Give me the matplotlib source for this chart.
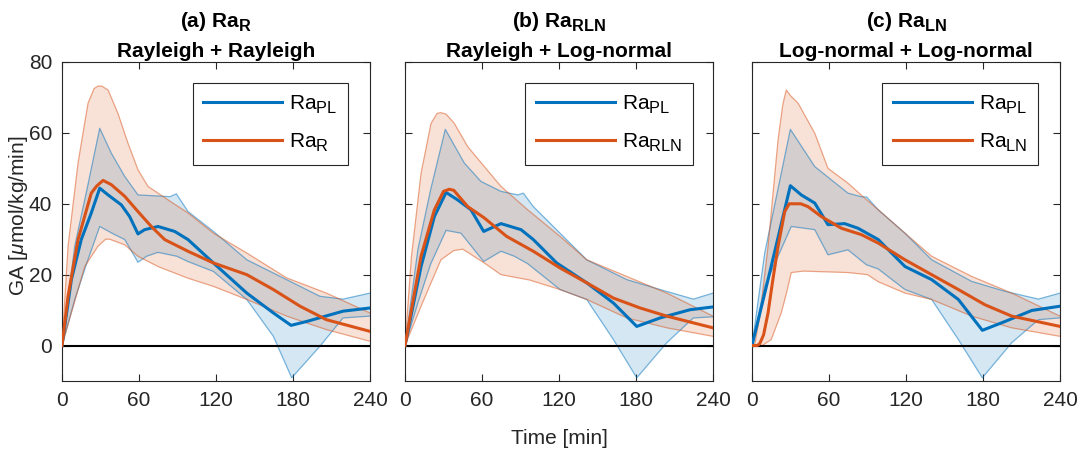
import numpy as np
import matplotlib
matplotlib.use("Agg")
import matplotlib.pyplot as plt

try:
    import matplotlib._mathtext as _mt
    _mt.SHRINK_FACTOR = 0.78
    _mt.FontConstantsBase.sub1 = 0.42
    _mt.FontConstantsBase.sub2 = 0.5
except Exception:
    pass

plt.rcParams['font.family'] = ['Liberation Sans', 'DejaVu Sans']
plt.rcParams['mathtext.fontset'] = 'custom'
plt.rcParams['mathtext.rm'] = 'Liberation Sans'
plt.rcParams['mathtext.it'] = 'Liberation Sans:italic'
plt.rcParams['mathtext.bf'] = 'Liberation Sans:bold'
plt.rcParams['mathtext.default'] = 'rm'

# ---------------- data ----------------
titles_top = [r"(a) Ra$_{\mathbf{R}}$", r"(b) Ra$_{\mathbf{RLN}}$", r"(c) Ra$_{\mathbf{LN}}$"]
titles_bottom = ["Rayleigh + Rayleigh", "Rayleigh + Log-normal", "Log-normal + Log-normal"]
labels_blue = [r"Ra$_{PL}$", r"Ra$_{PL}$", r"Ra$_{PL}$"]
labels_orange = [r"Ra$_{R}$", r"Ra$_{RLN}$", r"Ra$_{LN}$"]
xticks = [0, 60, 120, 180, 240]
yticks = [0, 20, 40, 60, 80]

# Panel (a)
a_pl_t = [0, 7.3, 15, 22.8, 29.4, 35.9, 46.2, 52.7, 59.2, 64.4, 74.8, 87.8, 98.2, 118, 144, 164.7, 178.5, 190.7, 219, 240]
a_pl_m = [0, 18.6, 29.9, 37.4, 44.4, 42.5, 39.7, 36.4, 31.5, 32.7, 33.6, 32.2, 29.9, 23.3, 14.8, 9.2, 5.7, 6.8, 9.7, 10.6]
a_pl_ut = [0, 9.9, 20, 29.4, 38.4, 48.9, 59.2, 74.8, 84, 89.1, 98.2, 118, 144, 175, 201, 219, 240]
a_pl_u = [0, 28, 45, 61.3, 54.3, 47.7, 42.5, 42.2, 42.0, 42.8, 37.8, 32.2, 24.2, 18.6, 13.9, 13.1, 14.8]
a_pl_lt = [0, 10, 20, 29.4, 40, 48.9, 59.2, 66, 74.8, 89.4, 98.2, 118, 144, 164.7, 179, 201, 219, 240]
a_pl_l = [0, 13, 24, 33.6, 31.5, 29.9, 23.5, 25.2, 26.3, 25.2, 23.7, 20.9, 13, 2.6, -9.1, -0.2, 7.8, 8.3]
a_ra_t = [0, 4.7, 12.5, 22.8, 27, 32, 38.4, 48.9, 59.2, 69.6, 80, 98.2, 118, 144, 164.7, 185.5, 206, 240]
a_ra_m = [0, 13.9, 29.9, 43, 45, 46.6, 45.4, 42.1, 37.8, 33.6, 29.9, 26.6, 23.3, 20, 15.8, 11.1, 7.3, 4.0]
a_ra_ut = [0, 4.7, 12.5, 20.3, 25, 28, 31, 35.9, 43.6, 51.4, 59.2, 67, 82.6, 98.2, 118, 144, 175, 206, 240]
a_ra_u = [0, 28, 51.5, 68.4, 72.5, 73.2, 73.2, 72.1, 65.5, 57.1, 49.6, 44.9, 41.1, 37.4, 31.7, 26.1, 19.1, 14.8, 9.2]
a_ra_lt = [0, 7.3, 17.7, 28, 34, 37.2, 48.9, 59.2, 74.8, 98.2, 118, 144, 175, 206, 240]
a_ra_l = [0, 9.2, 22.3, 28, 30, 30, 28.4, 25.2, 22.3, 19, 16.7, 13, 8.3, 4.5, 1.2]

# Panel (b)
b_pl_t = [0, 12.5, 22.9, 32, 41, 51.4, 61.3, 74.8, 90.4, 100, 118.2, 141.6, 162.4, 180.6, 198.8, 222, 240]
b_pl_m = [0, 22.3, 36.4, 43.2, 41.1, 38.3, 32.2, 34.4, 32.7, 29.9, 23.3, 17.7, 12, 5.4, 7.8, 10.1, 10.9]
b_pl_ut = [0, 10, 20, 31.4, 46.2, 59.2, 74.8, 88, 92.2, 100, 120.8, 141.6, 172.8, 198.8, 224.7, 240]
b_pl_u = [0, 27, 44, 61, 51.5, 46.3, 43.5, 42.5, 43, 39.2, 31.7, 24.2, 18.6, 15.8, 13.1, 14.8]
b_pl_lt = [0, 10, 20, 32, 43.6, 61.3, 74.8, 85.2, 95.6, 120.8, 141.6, 162.4, 180.6, 204, 224.7, 240]
b_pl_l = [0, 12, 23, 32.5, 31.7, 23.7, 26.6, 25.2, 23.1, 15.8, 13, 1.7, -9.1, 0.8, 7.8, 8.1]
b_ra_t = [0, 12.5, 22.9, 30, 34.5, 38, 48.9, 61.8, 79.2, 100, 120.8, 141.6, 162.4, 183.2, 204, 240]
b_ra_m = [0, 25.2, 38.3, 43.5, 44.1, 43.8, 39.2, 36, 30.8, 26.6, 21.9, 17.7, 13.4, 10.6, 8.3, 5]
b_ra_ut = [0, 5, 12.5, 20.3, 25, 28, 32, 38.4, 48.9, 61.8, 74.8, 95.6, 120.8, 141.6, 172.8, 204, 240]
b_ra_u = [0, 25, 48.6, 62.7, 65.5, 65.7, 65.3, 62.7, 56.1, 50.5, 44.9, 38.3, 30.8, 24.2, 19.5, 14.8, 8.3]
b_ra_lt = [0, 12.5, 28, 38, 45, 61.8, 74.8, 97, 120.8, 141.6, 172.8, 204, 240]
b_ra_l = [0, 11.1, 24.2, 26.8, 27.2, 23.3, 20, 18.5, 15.8, 13, 7.8, 5, 2.6]

# Panel (c)
c_pl_t = [0, 12.5, 29.9, 38.4, 48.9, 59.2, 72.2, 82.6, 98.4, 119.2, 140, 160.8, 179.5, 197.2, 218, 240]
c_pl_m = [0, 18.6, 45.1, 42.5, 40.2, 34.1, 34.4, 33.1, 29.9, 22.3, 18.6, 13, 4.3, 6.8, 9.9, 11.1]
c_pl_ut = [0, 9.9, 29.9, 48.9, 74.8, 85, 89.4, 98.4, 119.2, 140, 171.2, 197.2, 223.2, 240]
c_pl_u = [0, 26.1, 61, 50.5, 43, 42, 41.9, 38.3, 31.7, 24.2, 18.1, 15.3, 13.1, 14.8]
c_pl_lt = [0, 9.9, 30.6, 48.9, 59.2, 74.8, 89.1, 98.4, 119.2, 140, 160.8, 179.5, 202.4, 223.2, 240]
c_pl_l = [0, 16.7, 33.6, 32.7, 25.6, 27, 22.8, 21.6, 15.8, 13, 1.7, -9.1, 0.8, 7.3, 7.8]
c_ra_t = [0, 4, 6, 9, 12.5, 16, 20.3, 25.5, 29, 32, 38, 43.6, 54, 69.6, 85.2, 98.4, 119.2, 140, 160.8, 181.6, 202.4, 240]
c_ra_m = [0, 0, 0.5, 3, 9.2, 18, 28, 37.8, 40, 40, 40, 39.2, 36.4, 33.1, 31.3, 28.9, 24.2, 20, 15.8, 11.5, 8.3, 5.4]
c_ra_ut = [0, 2, 6, 12.5, 20.3, 24, 26.7, 30, 35.9, 48.9, 59.2, 74.8, 87.8, 98.4, 119.2, 140, 171.2, 202.4, 240]
c_ra_u = [0, 0, 8, 28, 58, 68, 72.1, 70.5, 68.4, 59.9, 50, 45.8, 41.6, 38.3, 31.7, 25.2, 19.5, 14.8, 8.3]
c_ra_lt = [0, 8, 15, 22.8, 27, 30.6, 40, 48.9, 74.8, 90, 98.4, 119.2, 140, 171.2, 202.4, 240]
c_ra_l = [0, 0, 1.7, 9.2, 15, 20.6, 21, 20.9, 20.6, 20, 18, 14.8, 13, 8.3, 5, 2.6]

panels = [
    dict(pl=(a_pl_t, a_pl_m, a_pl_ut, a_pl_u, a_pl_lt, a_pl_l), ra=(a_ra_t, a_ra_m, a_ra_ut, a_ra_u, a_ra_lt, a_ra_l)),
    dict(pl=(b_pl_t, b_pl_m, b_pl_ut, b_pl_u, b_pl_lt, b_pl_l), ra=(b_ra_t, b_ra_m, b_ra_ut, b_ra_u, b_ra_lt, b_ra_l)),
    dict(pl=(c_pl_t, c_pl_m, c_pl_ut, c_pl_u, c_pl_lt, c_pl_l), ra=(c_ra_t, c_ra_m, c_ra_ut, c_ra_u, c_ra_lt, c_ra_l)),
]

BLUE = '#0072BD'
ORANGE = '#D95319'
DARK = '#262626'

fig = plt.figure(figsize=(10.86, 4.54), dpi=100)
lefts = [62 / 1086, 405 / 1086, 752 / 1086]
W = 308 / 1086
B = 1 - 381 / 454
H = 319 / 454
leg_right = [0.929, 0.935, 0.929]


def band(ax, data, color):
    t, m, ut, u, lt, l = data
    xs = np.concatenate([np.asarray(ut, float), np.asarray(lt, float)[::-1]])
    ys = np.concatenate([np.asarray(u, float), np.asarray(l, float)[::-1]])
    ax.fill(xs, ys, facecolor=color, alpha=0.17, edgecolor='none', zorder=1)
    ax.plot(ut, u, color=color, alpha=0.5, lw=0.9, zorder=2)
    ax.plot(lt, l, color=color, alpha=0.5, lw=0.9, zorder=2)


for i, p in enumerate(panels):
    ax = fig.add_axes([lefts[i], B, W, H])
    band(ax, p['pl'], BLUE)
    band(ax, p['ra'], ORANGE)
    ax.axhline(0, color='black', lw=1.5, zorder=3)
    lb, = ax.plot(p['pl'][0], p['pl'][1], color=BLUE, lw=2.2, zorder=4, label=labels_blue[i])
    lo, = ax.plot(p['ra'][0], p['ra'][1], color=ORANGE, lw=2.2, zorder=5, label=labels_orange[i])
    ax.set_xlim(0, 240)
    ax.set_ylim(-10, 80)
    ax.set_xticks(xticks)
    ax.set_yticks(yticks)
    ax.tick_params(direction='in', top=True, right=True, length=5, width=0.8,
                   colors=DARK, labelsize=15, pad=7)
    if i > 0:
        ax.set_yticklabels([])
    for s in ax.spines.values():
        s.set_color(DARK)
        s.set_linewidth(0.8)
    ax.text(0.5, 1.1097, titles_top[i], transform=ax.transAxes, ha='center', va='baseline',
            fontsize=15, fontweight='bold', color='black')
    ax.text(0.5, 1.0157, titles_bottom[i], transform=ax.transAxes, ha='center', va='baseline',
            fontsize=15, fontweight='bold', color='black')
    leg = ax.legend(handles=[lb, lo], loc='upper right', bbox_to_anchor=(leg_right[i], 0.934),
                    fontsize=15, handlelength=3.8, handletextpad=0.35, borderpad=0.5,
                    labelspacing=0.75, fancybox=False, framealpha=1, borderaxespad=0)
    leg.get_frame().set_edgecolor(DARK)
    leg.get_frame().set_linewidth(0.8)
    for line in leg.get_lines():
        line.set_linewidth(2.2)

fig.text(19 / 1086, 1 - 216 / 454, r"GA [$\mathit{\mu}$mol/kg/min]", rotation=90,
         ha='center', va='center', fontsize=15, color=DARK)
fig.text(559 / 1086, 1 - 438 / 454, "Time [min]", ha='center', va='center', fontsize=15, color=DARK)

fig.savefig("out.png", dpi=100)
